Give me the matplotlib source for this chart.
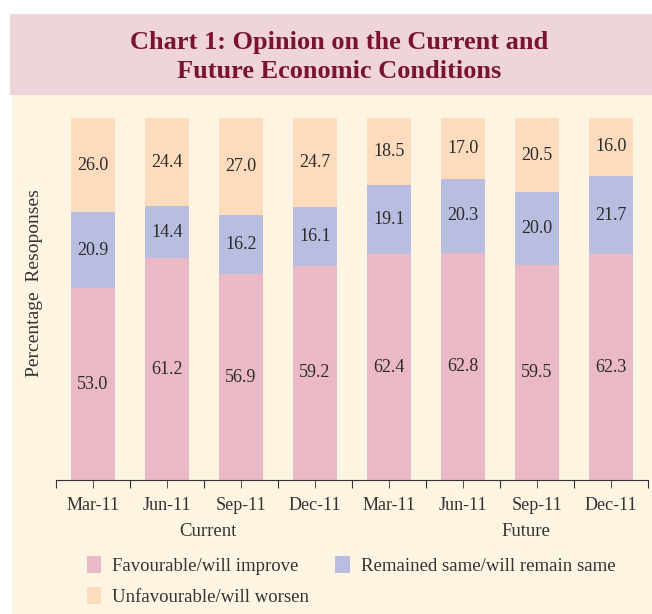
import matplotlib.pyplot as plt
from matplotlib.patches import Rectangle
import numpy as np

categories = ["Mar-11", "Jun-11", "Sep-11", "Dec-11", "Mar-11", "Jun-11", "Sep-11", "Dec-11"]
favourable = [53.0, 61.2, 56.9, 59.2, 62.4, 62.8, 59.5, 62.3]
same = [20.9, 14.4, 16.2, 16.1, 19.1, 20.3, 20.0, 21.7]
unfavourable = [26.0, 24.4, 27.0, 24.7, 18.5, 17.0, 20.5, 16.0]
groups = ["Current", "Future"]

c_fav = "#ebb9c6"
c_same = "#b9bddf"
c_unfav = "#fddbbd"
cream = "#fdf5e2"
title_bg = "#efd5d9"
title_col = "#7a1232"

plt.rcParams["font.family"] = ["Liberation Serif", "DejaVu Serif"]

fig = plt.figure(figsize=(6.52, 6.14), dpi=100)
fig.patch.set_facecolor("white")

# background panels
fig.patches.append(Rectangle((12 / 652, 0.0), 1, 1 - 95 / 614, transform=fig.transFigure,
                             facecolor=cream, edgecolor="none", zorder=-2))
fig.patches.append(Rectangle((10 / 652, 1 - 95 / 614), 1, 81 / 614, transform=fig.transFigure,
                             facecolor=title_bg, edgecolor="none", zorder=-2))
fig.text(0.52, 1 - 57 / 614, "Chart 1: Opinion on the Current and\nFuture Economic Conditions",
         ha="center", va="center", fontsize=19, fontweight="bold", color=title_col,
         linespacing=1.3)

ax = fig.add_axes([56 / 652, 1 - 480 / 614, 592 / 652, 362 / 614])
ax.set_facecolor("none")

x = np.arange(len(categories))
width = 0.6
fav = np.array(favourable)
sam = np.array(same)
unf = np.array(unfavourable)
b1 = ax.bar(x, fav, width, color=c_fav, label="Favourable/will improve")
b2 = ax.bar(x, sam, width, bottom=fav, color=c_same, label="Remained same/will remain same")
b3 = ax.bar(x, unf, width, bottom=fav + sam, color=c_unfav, label="Unfavourable/will worsen")

for bars, vals, base in [(b1, fav, 0), (b2, sam, fav), (b3, unf, fav + sam)]:
    for i, v in enumerate(vals):
        b = base[i] if np.ndim(base) else base
        ax.text(x[i], b + v / 2, f"{v:.1f}", ha="center", va="center",
                fontsize=13, color="#2b2b2b")

ax.set_xlim(-0.5, len(categories) - 0.5)
ax.set_ylim(0, 100)
for s in ["top", "right", "left"]:
    ax.spines[s].set_visible(False)
ax.spines["bottom"].set_color("#333333")
ax.set_yticks([])
ax.set_xticks(np.arange(-0.5, len(categories), 1.0))
ax.set_xticklabels([])
ax.set_xticks(x, minor=True)
ax.set_xticklabels(categories, minor=True, fontsize=13, color="#333333")
ax.tick_params(axis="x", which="both", length=6, color="#333333", pad=6)

ax.text(1.55, -14.3, groups[0], ha="center", va="center", fontsize=13.5, color="#333333")
ax.text(5.85, -14.3, groups[1], ha="center", va="center", fontsize=13.5, color="#333333")

fig.text(35 / 652, 1 - 283 / 614, "Percentage  Resoponses", rotation=90, ha="center",
         va="center", fontsize=14, color="#333333")

fig.legend([b1, b3, b2], ["Favourable/will improve", "Unfavourable/will worsen",
                          "Remained same/will remain same"],
           ncol=2, loc="upper left", bbox_to_anchor=(70 / 652, 1 - 539 / 614),
           frameon=False, fontsize=13.5, handlelength=0.75, handleheight=1.0,
           columnspacing=1.4, handletextpad=0.6, labelspacing=0.65, labelcolor="#333333")

plt.savefig("out.png", dpi=100, facecolor=fig.get_facecolor())
